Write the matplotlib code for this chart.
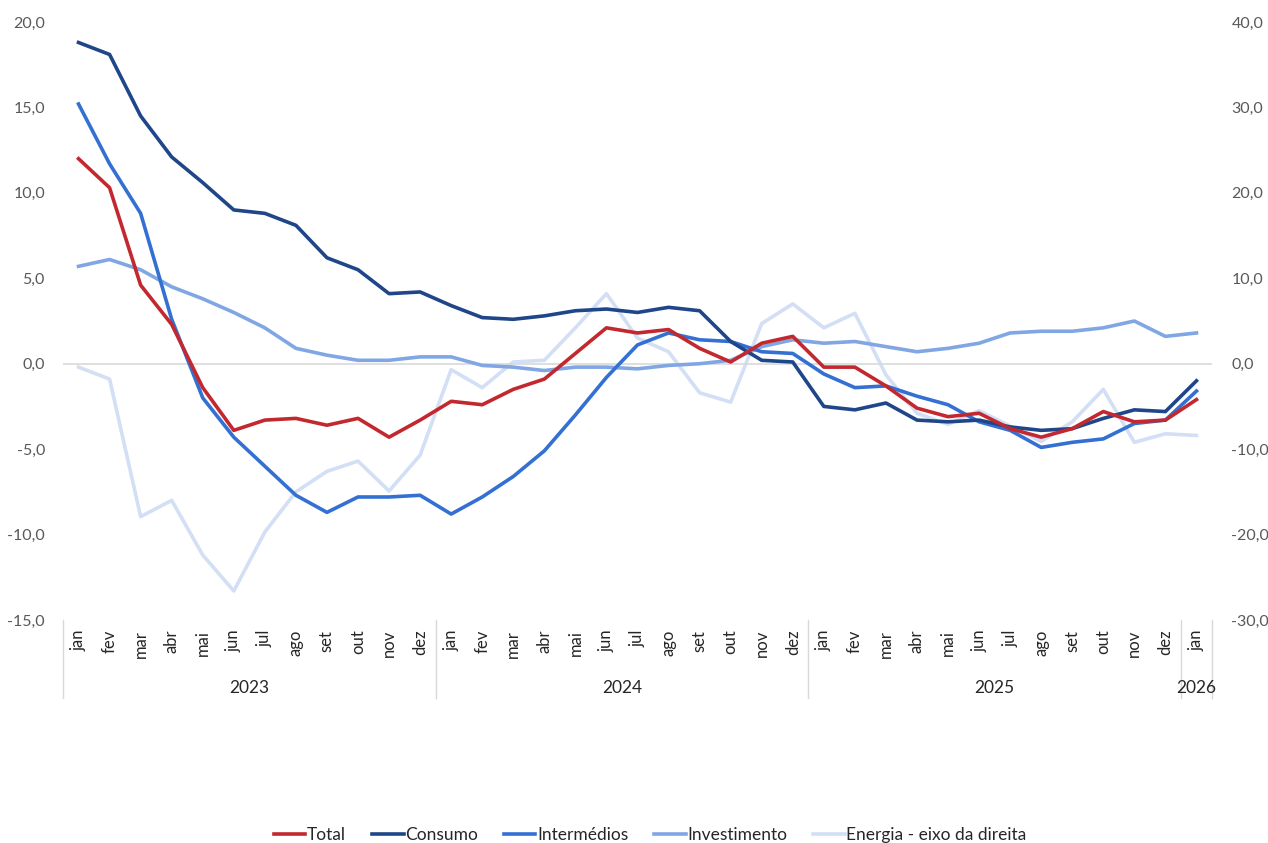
import matplotlib
matplotlib.use("Agg")
import matplotlib.pyplot as plt
from matplotlib.transforms import blended_transform_factory
from matplotlib.ticker import FuncFormatter

plt.rcParams['font.family'] = ['Lato', 'DejaVu Sans']

months = ["jan", "fev", "mar", "abr", "mai", "jun", "jul", "ago", "set", "out", "nov", "dez"] * 3 + ["jan"]
years = ["2023", "2024", "2025", "2026"]
year_counts = [12, 12, 12, 1]

total = [12.0, 10.3, 4.6, 2.3, -1.4, -3.9, -3.3, -3.2, -3.6, -3.2, -4.3, -3.3,
         -2.2, -2.4, -1.5, -0.9, 0.6, 2.1, 1.8, 2.0, 0.9, 0.1, 1.2, 1.6,
         -0.2, -0.2, -1.3, -2.6, -3.1, -2.9, -3.8, -4.3, -3.8, -2.8, -3.4, -3.3,
         -2.1]
consumo = [18.8, 18.1, 14.5, 12.1, 10.6, 9.0, 8.8, 8.1, 6.2, 5.5, 4.1, 4.2,
           3.4, 2.7, 2.6, 2.8, 3.1, 3.2, 3.0, 3.3, 3.1, 1.3, 0.2, 0.1,
           -2.5, -2.7, -2.3, -3.3, -3.4, -3.3, -3.7, -3.9, -3.8, -3.2, -2.7, -2.8,
           -1.0]
intermedios = [15.2, 11.7, 8.8, 2.6, -2.0, -4.3, -6.0, -7.7, -8.7, -7.8, -7.8, -7.7,
               -8.8, -7.8, -6.6, -5.1, -3.0, -0.8, 1.1, 1.8, 1.4, 1.3, 0.7, 0.6,
               -0.6, -1.4, -1.3, -1.9, -2.4, -3.4, -3.9, -4.9, -4.6, -4.4, -3.5, -3.3,
               -1.6]
investimento = [5.7, 6.1, 5.5, 4.5, 3.8, 3.0, 2.1, 0.9, 0.5, 0.2, 0.2, 0.4,
                0.4, -0.1, -0.2, -0.4, -0.2, -0.2, -0.3, -0.1, 0.0, 0.2, 1.0, 1.4,
                1.2, 1.3, 1.0, 0.7, 0.9, 1.2, 1.8, 1.9, 1.9, 2.1, 2.5, 1.6,
                1.8]
energia = [-0.4, -1.8, -17.9, -16.0, -22.4, -26.6, -19.7, -15.0, -12.6, -11.4, -14.9, -10.7,
           -0.7, -2.8, 0.2, 0.4, 4.2, 8.2, 3.0, 1.4, -3.4, -4.5, 4.7, 7.0,
           4.2, 5.9, -1.3, -5.8, -7.1, -5.5, -7.3, -9.1, -6.8, -3.0, -9.2, -8.2,
           -8.4]

c_total = "#C3282F"
c_cons = "#1F4689"
c_int = "#3370D2"
c_inv = "#80A7E4"
c_en = "#D2DFF5"
grey = "#595959"

fig = plt.figure(figsize=(12.68, 8.43), dpi=100)
ax = fig.add_axes([63 / 1268, 1 - 620 / 843, (1212 - 63) / 1268, (620 - 22) / 843])
ax2 = ax.twinx()

x = list(range(len(months)))
lw = 2.6
l5, = ax2.plot(x, energia, color=c_en, lw=lw, label="Energia - eixo da direita")
l4, = ax.plot(x, investimento, color=c_inv, lw=lw, label="Investimento")
l3, = ax.plot(x, intermedios, color=c_int, lw=lw, label="Intermédios")
l2, = ax.plot(x, consumo, color=c_cons, lw=lw, label="Consumo")
l1, = ax.plot(x, total, color=c_total, lw=lw, label="Total")

ax.set_zorder(ax2.get_zorder() + 1)
ax.patch.set_visible(False)

ax.set_xlim(-0.5, len(months) - 0.5)
ax.set_ylim(-15, 20)
ax2.set_ylim(-30, 40)
ax.axhline(0, color="#D9D9D9", lw=1.2, zorder=0)

fmt = FuncFormatter(lambda v, p: f"{v:.1f}".replace(".", ","))
ax.set_yticks(range(-15, 21, 5))
ax.yaxis.set_major_formatter(fmt)
ax2.set_yticks(range(-30, 41, 10))
ax2.yaxis.set_major_formatter(fmt)

for a in (ax, ax2):
    for s in a.spines.values():
        s.set_visible(False)
    a.tick_params(axis="y", length=0, labelsize=11.5, labelcolor=grey)
ax.tick_params(axis="y", pad=13)
ax2.tick_params(axis="y", pad=14)

ax.set_xticks(x)
ax.set_xticklabels(months, rotation=90, fontsize=12, color="#262626")
ax.tick_params(axis="x", length=0, pad=7)
ax2.tick_params(axis="x", length=0)

trans = blended_transform_factory(ax.transData, ax.transAxes)
bottom = -(698 - 620) / 598
start = 0
seps = [-0.5]
for cnt in year_counts:
    start += cnt
    seps.append(start - 0.5)
for s in seps:
    ax.plot([s, s], [0, bottom], color="#D9D9D9", lw=1.0, transform=trans, clip_on=False)

start = 0
for yr, cnt in zip(years, year_counts):
    mid = start + (cnt - 1) / 2
    ax.text(mid, -(688 - 620) / 598, yr, transform=trans, ha="center", va="center",
            fontsize=12.5, color="#262626")
    start += cnt

fig.legend(handles=[l1, l2, l3, l4, l5], loc="center", bbox_to_anchor=(0.513, 1 - 835 / 843),
           ncol=5, frameon=False, fontsize=12.5, handlelength=1.8, handletextpad=0.1,
           columnspacing=1.5, labelcolor="#262626")

fig.savefig("out.png", dpi=100)
